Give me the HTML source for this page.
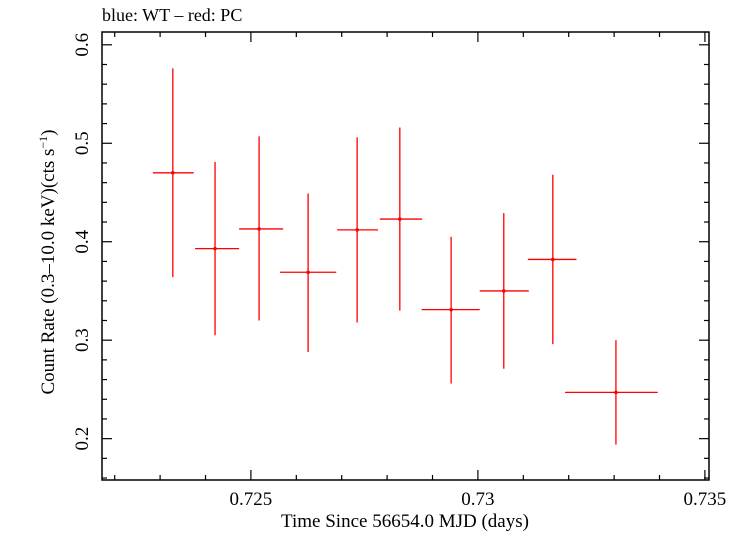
<!DOCTYPE html>
<html><head><meta charset="utf-8"><style>
body{margin:0;background:#fff}
svg text{font-family:"Liberation Serif",serif;fill:#000}
</style></head><body>
<svg id="chart" width="740" height="532" xmlns="http://www.w3.org/2000/svg">
<text x="102" y="21" font-size="18">blue: WT – red: PC</text>
<g id="axes"></g>
<g id="series"></g>
<text x="405" y="527" font-size="19" text-anchor="middle">Time Since 56654.0 MJD (days)</text>
<text transform="translate(54,262) rotate(-90)" font-size="19" text-anchor="middle">Count Rate (0.3–10.0 keV)(cts s<tspan font-size="12" dy="-7">−1</tspan><tspan dy="7">)</tspan></text>
</svg>
<script>
const tCenter=[0.72328,0.72421,0.72518,0.72626,0.72734,0.72828,0.72941,0.73057,0.73165,0.73304];
const tLow=[0.72284,0.72377,0.72474,0.72564,0.72690,0.72784,0.72876,0.73004,0.73110,0.73192];
const tHigh=[0.72374,0.72474,0.72571,0.72688,0.72780,0.72877,0.73004,0.73112,0.73217,0.73396];
const rate=[0.470,0.393,0.413,0.369,0.412,0.423,0.331,0.350,0.382,0.247];
const rateLow=[0.364,0.305,0.320,0.288,0.318,0.330,0.256,0.271,0.296,0.194];
const rateHigh=[0.576,0.481,0.507,0.449,0.506,0.516,0.405,0.429,0.468,0.300];
const xTickLabels=["0.725","0.73","0.735"];
const yTickLabels=["0.2","0.3","0.4","0.5","0.6"];
const L=102,R=709,T=32,B=480;
const X0=0.72172,X1=0.73509,Y0=0.158,Y1=0.613;
const sx=v=>L+(v-X0)/(X1-X0)*(R-L);
const sy=v=>B-(v-Y0)/(Y1-Y0)*(B-T);
const NS="http://www.w3.org/2000/svg";
function mk(tag,attrs,parent){const e=document.createElementNS(NS,tag);for(const k in attrs)e.setAttribute(k,attrs[k]);parent.appendChild(e);return e;}
const ax=document.getElementById('axes');
const fr=mk('rect',{x:L,y:T,width:R-L,height:B-T,fill:'none',stroke:'#000','stroke-width':1.5},ax);


for(let i=0;i<=14;i++){const v=0.722+i*0.001;if(v>X1)break;const x=sx(v);const major=(i%5===3);const len=major?10:5;
 const t1=mk('line',{x1:x,x2:x,y1:B,y2:B-len,stroke:'#000','stroke-width':1.2},ax);
 
 
 const t2=mk('line',{x1:x,x2:x,y1:T,y2:T+len,stroke:'#000','stroke-width':1.2},ax);
 
 }
xTickLabels.forEach(s=>{const t=mk('text',{x:sx(parseFloat(s)),y:505,'font-size':19,'text-anchor':'middle'},ax);t.textContent=s;
 
 });
for(let i=0;i<=30;i++){const v=0.16+i*0.02;if(v>Y1)break;const y=sy(v);const major=(i%5===2);const len=major?10:5;
 const t1=mk('line',{x1:L,x2:L+len,y1:y,y2:y,stroke:'#000','stroke-width':1.2},ax);
 
 
 const t2=mk('line',{x1:R,x2:R-len,y1:y,y2:y,stroke:'#000','stroke-width':1.2},ax);
 
 }
yTickLabels.forEach(s=>{const y=sy(parseFloat(s));const t=mk('text',{transform:`translate(88,${y}) rotate(-90)`,'font-size':19,'text-anchor':'middle'},ax);t.textContent=s;
 
 });
const se=document.getElementById('series');
rate.forEach((r,i)=>{const g=mk('g',{stroke:'#f00','stroke-width':1.3},se);
 
 
 mk('line',{x1:sx(tLow[i]),x2:sx(tHigh[i]),y1:sy(r),y2:sy(r)},g);
 mk('line',{x1:sx(tCenter[i]),x2:sx(tCenter[i]),y1:sy(rateLow[i]),y2:sy(rateHigh[i])},g);
 mk('circle',{cx:sx(tCenter[i]),cy:sy(r),r:1.8,fill:'#f00',stroke:'none'},g);});
</script>
</body></html>
